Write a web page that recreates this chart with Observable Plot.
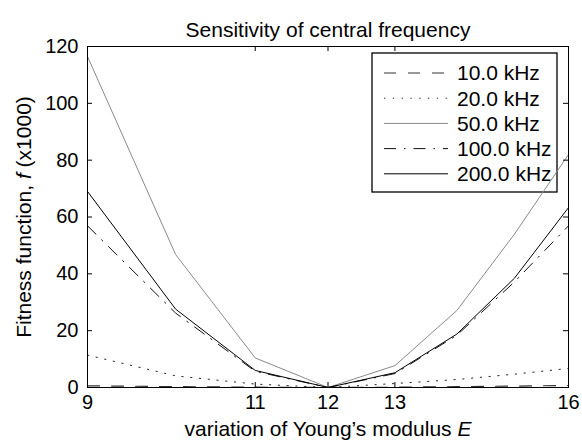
<!DOCTYPE html>
<html><head><meta charset="utf-8">
<script src="https://cdn.jsdelivr.net/npm/d3@7"></script>
<script src="https://cdn.jsdelivr.net/npm/@observablehq/plot@0.6"></script>
<style>body{margin:0;background:#fff;}</style>
</head><body><div id="chart"></div>
<script>
// ---- data ----
const E = [9, 10, 11, 12, 13, 14, 15, 16];
const f10 = [0.6, 0.3, 0.1, 0, 0.1, 0.3, 0.5, 0.7];
const f20 = [11.4, 4.1, 1.2, 0, 1.4, 2.8, 4.7, 6.7];
const f50 = [116.5, 46.8, 10.4, 0, 7.7, 27.1, 54.0, 82.0];
const f100 = [56.9, 26.2, 5.7, 0, 4.9, 18.4, 37.2, 56.9];
const f200 = [69.0, 27.6, 6.0, 0, 5.2, 18.8, 38.5, 63.3];
const seriesNames = ["10.0 kHz", "20.0 kHz", "50.0 kHz", "100.0 kHz", "200.0 kHz"];
const xTicks = [9, 11, 12, 13, 16];
const yTicks = [0, 20, 40, 60, 80, 100, 120];
const titleText = "Sensitivity of central frequency";

// ---- styles ----
const seriesStyle = [
  {stroke: "#333", dash: "12,12", w: 1.2},
  {stroke: "#222", dash: "1.3,7.5", w: 1},
  {stroke: "#8a8a8a", dash: null, w: 1},
  {stroke: "#111", dash: "12,8,1.5,8", w: 1},
  {stroke: "#000", dash: null, w: 1}
];

const allSeries = [f10, f20, f50, f100, f200];
const rows = allSeries.flatMap((vals, i) => vals.map((v, j) => ({E: E[j], f: v, s: seriesNames[i]})));

const W = 582, H = 448, mL = 87, mR = 14, mT = 46, mB = 61;
const frameW = W - mL - mR, frameH = H - mT - mB, tickLen = 5;
const font = "'Liberation Sans', Arial, Helvetica, sans-serif";

const lineMarks = seriesNames.map((name, i) => Plot.line(rows.filter(r => r.s === name), {
  x: "E", y: "f", stroke: seriesStyle[i].stroke, strokeWidth: seriesStyle[i].w,
  strokeDasharray: seriesStyle[i].dash || undefined
}));

const plot = Plot.plot({
  width: W, height: H,
  marginLeft: mL, marginRight: mR, marginTop: mT, marginBottom: mB,
  style: {fontFamily: font, fontSize: "20px", color: "#000", background: "#fff", overflow: "visible"},
  x: {type: "log", domain: [9, 16], axis: null},
  y: {domain: [0, 120], axis: null},
  marks: [
    ...lineMarks,
    Plot.frame({stroke: "#000", strokeWidth: 1}),
    // inward ticks on all four sides
    Plot.tickX(xTicks, {x: d => d, insetTop: frameH - tickLen, stroke: "#000"}),
    Plot.tickX(xTicks, {x: d => d, insetBottom: frameH - tickLen, stroke: "#000"}),
    Plot.tickY(yTicks, {y: d => d, insetRight: frameW - tickLen, stroke: "#000"}),
    Plot.tickY(yTicks, {y: d => d, insetLeft: frameW - tickLen, stroke: "#000"}),
    // tick labels
    Plot.text(xTicks, {x: d => d, text: d => String(d), frameAnchor: "bottom", dy: 21, fontSize: 20, fill: "#000", textAnchor: "middle"}),
    Plot.text(yTicks, {y: d => d, text: d => String(d), frameAnchor: "left", dx: -9, fontSize: 20, fill: "#000", textAnchor: "end"}),
    Plot.text([titleText], {text: d => d, frameAnchor: "top", dy: -24, fontSize: 21, fill: "#000", textAnchor: "middle"}),
    Plot.text(["@xlabel"], {text: d => d, frameAnchor: "bottom", dy: 48, fontSize: 21, fill: "#000", textAnchor: "middle"}),
    Plot.text(["@ylabel"], {text: d => d, frameAnchor: "left", dx: -63, rotate: -90, fontSize: 21, fill: "#000", textAnchor: "middle"})
  ]
});

document.getElementById("chart").appendChild(plot);
const svg = d3.select(plot);

// axis labels with italic variables
function richLabel(key, before, ital, after) {
  const t = svg.selectAll("text").filter(function() { return this.textContent === key; });
  t.selectAll("*").remove();
  t.text(null);
  t.append("tspan").text(before);
  t.append("tspan").attr("font-style", "italic").text(ital);
  if (after) t.append("tspan").text(after);
}
richLabel("@xlabel", "variation of Young\u2019s modulus ", "E", "");
richLabel("@ylabel", "Fitness function, ", "f", " (x1000)");

// legend box (inside the axes, top right), drawn beneath the data lines
const xs = plot.scale("x"), ys = plot.scale("y");
const legRight = xs.range[1] - 11, legTop = ys.range[1] + 7;
const boxW = 185, boxH = 139, rowH = 25.2;
const legLeft = legRight - boxW;
const firstMark = plot.querySelector("g[aria-label]");
const lg = d3.select(plot.insertBefore(document.createElementNS("http://www.w3.org/2000/svg", "g"), firstMark))
  .attr("aria-label", "legend");
lg.append("rect").attr("x", legLeft).attr("y", legTop).attr("width", boxW).attr("height", boxH)
  .attr("fill", "#fff").attr("stroke", "#000").attr("stroke-width", 1.3);
seriesNames.forEach((name, i) => {
  const cy = legTop + 20 + i * rowH;
  lg.append("line").attr("x1", legLeft + 12).attr("x2", legLeft + 76).attr("y1", cy).attr("y2", cy)
    .attr("stroke", seriesStyle[i].stroke).attr("stroke-width", 1)
    .attr("stroke-dasharray", seriesStyle[i].dash);
  lg.append("text").attr("x", legLeft + 85).attr("y", cy).attr("dy", "0.35em")
    .attr("text-anchor", "start")
    .attr("font-family", font).attr("font-size", 21).attr("fill", "#000").text(name);
});
</script>
</body></html>
